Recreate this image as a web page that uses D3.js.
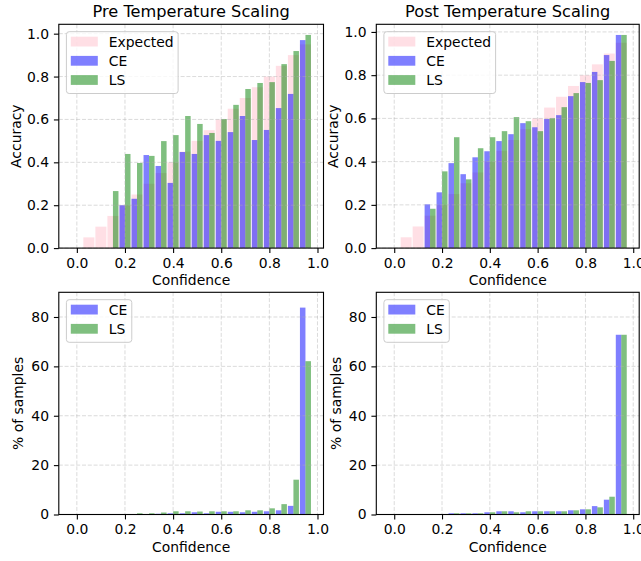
<!DOCTYPE html>
<html>
<head>
<meta charset="utf-8">
<script src="https://cdn.jsdelivr.net/npm/d3@7"></script>
<style>
  body { margin: 0; background: #fff; }
  svg { display: block; font-family: "DejaVu Sans", sans-serif; }
</style>
</head>
<body>
<svg id="chart" width="641" height="561"></svg>
<script>
// Confidence bin centres (20 bins of width 0.05)
const confidenceBins = [0.00, 0.05, 0.10, 0.15, 0.20, 0.25, 0.30, 0.35, 0.40, 0.45,
                        0.50, 0.55, 0.60, 0.65, 0.70, 0.75, 0.80, 0.85, 0.90, 0.95];
// Perfectly calibrated accuracy for each bin
const expectedAcc = [0.00, 0.05, 0.10, 0.15, 0.20, 0.25, 0.30, 0.35, 0.40, 0.45,
                     0.50, 0.55, 0.60, 0.65, 0.70, 0.75, 0.80, 0.85, 0.90, 0.95];

// Accuracy per bin before temperature scaling
const preAccCE = [0, 0, 0, 0, 0.20, 0.23, 0.434, 0.383, 0.304, 0.448,
                  0.439, 0.527, 0.50, 0.541, 0.616, 0.504, 0.551, 0.653, 0.719, 0.970];
const preAccLS = [0, 0, 0, 0.266, 0.439, 0.397, 0.430, 0.499, 0.527, 0.616,
                  0.579, 0.537, 0.602, 0.668, 0.742, 0.770, 0.774, 0.858, 0.919, 0.994];

// Accuracy per bin after temperature scaling
const postAccCE = [0, 0, 0, 0.2025, 0.258, 0.393, 0.342, 0.420, 0.448, 0.495,
                   0.527, 0.578, 0.559, 0.597, 0.615, 0.703, 0.768, 0.815, 0.893, 0.986];
const postAccLS = [0, 0, 0, 0.182, 0.355, 0.513, 0.318, 0.462, 0.513, 0.541,
                   0.606, 0.587, 0.541, 0.601, 0.652, 0.717, 0.764, 0.777, 0.866, 0.986];

// Share of samples (%) per bin
const prePctCE = [0, 0, 0, 0, 0.1, 0.2, 0.2, 0.3, 0.5, 0.5,
                  0.9, 0.5, 1.1, 1.1, 0.9, 1.1, 1.3, 1.7, 3.5, 83.8];
const prePctLS = [0, 0, 0, 0.2, 0.2, 0.5, 0.5, 0.8, 1.3, 1.3,
                  1.2, 1.3, 1.3, 1.3, 1.7, 1.7, 2.5, 4.2, 14.1, 62.1];
const postPctCE = [0, 0, 0, 0.05, 0.1, 0.5, 0.5, 0.5, 0.9, 1.3,
                   1.3, 0.9, 1.3, 1.3, 1.3, 1.7, 2.1, 3.4, 6.0, 72.8];
const postPctLS = [0, 0, 0, 0.05, 0.1, 0.5, 0.5, 0.5, 0.9, 1.3,
                   0.9, 1.3, 1.3, 1.3, 1.3, 1.7, 2.1, 2.9, 7.2, 72.8];

const xTicks = [0.0, 0.2, 0.4, 0.6, 0.8, 1.0];
const accTicks = [0.0, 0.2, 0.4, 0.6, 0.8, 1.0];
const pctTicks = [0, 20, 40, 60, 80];
const pctAxisMax = 90;

const BIN_W = 0.05;
const FS = 13.9;
const svg = d3.select("#chart");

function drawPanel(cfg) {
  const { box } = cfg;
  const lo = d3.min(confidenceBins) - BIN_W / 2;
  const hi = d3.max(confidenceBins) + BIN_W / 2;
  const pad = (hi - lo) * 0.05;
  const x = d3.scaleLinear().domain([lo - pad, hi + pad]).range([box.left, box.right]);
  const yMax = cfg.yMax != null ? cfg.yMax
    : d3.max(cfg.series.flatMap(s => s.values).concat(cfg.expected || [])) * 1.05;
  const y = d3.scaleLinear().domain([0, yMax]).range([box.bottom, box.top]);

  const g = svg.append("g");
  const clipId = "clip" + Math.random().toString(36).slice(2);
  g.append("clipPath").attr("id", clipId).append("rect")
    .attr("x", box.left).attr("y", box.top)
    .attr("width", box.right - box.left).attr("height", box.bottom - box.top);
  const plot = g.append("g").attr("clip-path", `url(#${clipId})`);

  // calibrated reference bars
  if (cfg.expected) {
    plot.append("g").selectAll("rect").data(confidenceBins).join("rect")
      .attr("x", (c) => x(c - BIN_W / 2) + 0.5)
      .attr("width", (c) => x(c + BIN_W / 2) - x(c - BIN_W / 2) - 1)
      .attr("y", (c, i) => y(cfg.expected[i]))
      .attr("height", (c, i) => y(0) - y(cfg.expected[i]))
      .attr("fill", "pink").attr("fill-opacity", 0.5);
  }
  // paired bars: first series on the left half of a bin, second on the right half
  cfg.series.forEach((s, si) => {
    plot.append("g").selectAll("rect").data(confidenceBins).join("rect")
      .attr("x", (c) => si === 0 ? x(c - BIN_W / 2) + 0.5 : x(c))
      .attr("width", (c) => x(c) - x(c - BIN_W / 2) - 0.5)
      .attr("y", (c, i) => y(s.values[i]))
      .attr("height", (c, i) => y(0) - y(s.values[i]))
      .attr("fill", s.color).attr("fill-opacity", 0.5);
  });

  // dashed grid, drawn above the bars
  const grid = g.append("g").attr("stroke", "#b0b0b0").attr("stroke-opacity", 0.5)
    .attr("stroke-width", 0.9).attr("stroke-dasharray", "4,1.8");
  grid.selectAll("line.v").data(xTicks).join("line").attr("class", "v")
    .attr("x1", d => x(d)).attr("x2", d => x(d)).attr("y1", box.top).attr("y2", box.bottom);
  grid.selectAll("line.h").data(cfg.yTicks).join("line").attr("class", "h")
    .attr("y1", d => y(d)).attr("y2", d => y(d)).attr("x1", box.left).attr("x2", box.right);

  // axes
  const xa = g.append("g").attr("transform", `translate(0,${box.bottom})`)
    .call(d3.axisBottom(x).tickValues(xTicks).tickFormat(d3.format(".1f"))
      .tickSize(4.9).tickPadding(4.9).tickSizeOuter(0));
  const ya = g.append("g").attr("transform", `translate(${box.left},0)`)
    .call(d3.axisLeft(y).tickValues(cfg.yTicks).tickFormat(cfg.yFormat)
      .tickSize(4.9).tickPadding(4.9).tickSizeOuter(0));
  [xa, ya].forEach(a => {
    a.select(".domain").remove();
    a.selectAll(".tick line").attr("stroke", "#000").attr("stroke-width", 1.1);
    a.selectAll(".tick text").attr("fill", "#000").style("font-size", FS + "px")
      .style("font-family", '"DejaVu Sans", sans-serif');
  });

  // frame
  g.append("rect").attr("x", box.left).attr("y", box.top)
    .attr("width", box.right - box.left).attr("height", box.bottom - box.top)
    .attr("fill", "none").attr("stroke", "#000").attr("stroke-width", 1.1);

  // labels
  g.append("text").attr("x", (box.left + box.right) / 2).attr("y", box.bottom + 37)
    .attr("text-anchor", "middle").style("font-size", FS + "px").text("Confidence");
  g.append("text")
    .attr("transform", `translate(${box.left - cfg.yLabelOffset},${(box.top + box.bottom) / 2}) rotate(-90)`)
    .attr("text-anchor", "middle").style("font-size", FS + "px").text(cfg.yLabel);
  if (cfg.title) {
    g.append("text").attr("x", (box.left + box.right) / 2).attr("y", box.top - 7.5)
      .attr("text-anchor", "middle").style("font-size", "16.2px").text(cfg.title);
  }

  // legend
  const items = [];
  if (cfg.expected) items.push({ label: "Expected", color: "pink" });
  cfg.series.forEach(s => items.push({ label: s.label, color: s.color }));
  const lx = box.left + 7.6, ly = box.top + 7.4;
  const lg = g.append("g");
  const frame = lg.append("rect").attr("x", lx).attr("y", ly).attr("rx", 2.8)
    .attr("fill", "#fff").attr("fill-opacity", 0.8)
    .attr("stroke", "#cccccc").attr("stroke-width", 1);
  let maxRight = 0;
  items.forEach((it, i) => {
    const top = ly + 5 + i * 19.2;
    lg.append("rect").attr("x", lx + 4.4).attr("y", top).attr("width", 27).attr("height", 9.8)
      .attr("fill", it.color).attr("fill-opacity", 0.5);
    const t = lg.append("text").attr("x", lx + 42.4).attr("y", top + 10.2)
      .style("font-size", FS + "px").text(it.label);
    maxRight = Math.max(maxRight, lx + 42.4 + t.node().getComputedTextLength());
  });
  frame.attr("width", maxRight + 4.5 - lx).attr("height", items.length * 19.2 + 4.2);
}

const L = { left: 58.8, right: 323.5 };
const R = { left: 376.3, right: 639.2 };
const TOP = { top: 24.3, bottom: 248.1 };
const BOT = { top: 292.3, bottom: 514.5 };

drawPanel({
  box: { ...L, ...TOP }, title: "Pre Temperature Scaling",
  expected: expectedAcc,
  series: [{ label: "CE", color: "blue", values: preAccCE }, { label: "LS", color: "green", values: preAccLS }],
  yTicks: accTicks, yFormat: d3.format(".1f"), yLabel: "Accuracy", yLabelOffset: 38
});
drawPanel({
  box: { ...R, ...TOP }, title: "Post Temperature Scaling",
  expected: expectedAcc,
  series: [{ label: "CE", color: "blue", values: postAccCE }, { label: "LS", color: "green", values: postAccLS }],
  yTicks: accTicks, yFormat: d3.format(".1f"), yLabel: "Accuracy", yLabelOffset: 38
});
drawPanel({
  box: { ...L, ...BOT }, yMax: pctAxisMax,
  series: [{ label: "CE", color: "blue", values: prePctCE }, { label: "LS", color: "green", values: prePctLS }],
  yTicks: pctTicks, yFormat: d3.format("d"), yLabel: "% of samples", yLabelOffset: 35.5
});
drawPanel({
  box: { ...R, ...BOT }, yMax: pctAxisMax,
  series: [{ label: "CE", color: "blue", values: postPctCE }, { label: "LS", color: "green", values: postPctLS }],
  yTicks: pctTicks, yFormat: d3.format("d"), yLabel: "% of samples", yLabelOffset: 35.5
});
</script>
</body>
</html>
